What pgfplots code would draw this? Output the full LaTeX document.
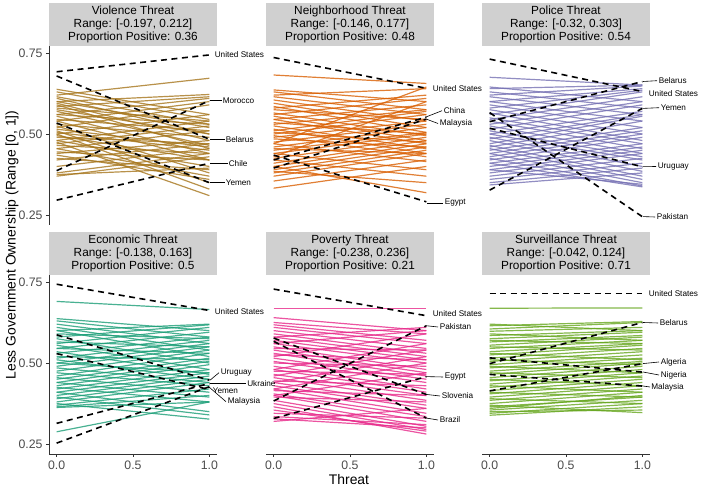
\documentclass[border=0pt]{standalone}
\usepackage{pgfplots}
\pgfplotsset{compat=1.18}
\usepackage{fontspec}
\setmainfont{Liberation Sans}
\definecolor{cviol}{HTML}{A6761D}
\definecolor{cneigh}{HTML}{D95F02}
\definecolor{cpol}{HTML}{7570B3}
\definecolor{cecon}{HTML}{1B9E77}
\definecolor{cpov}{HTML}{E7298A}
\definecolor{csurv}{HTML}{66A61E}
\definecolor{stripgray}{HTML}{D0D0D0}
\newcommand{\seg}[2]{\addplot[segstyle] coordinates {(0,#1) (1,#2)};}
\newcommand{\dseg}[2]{\addplot[dashseg] coordinates {(0,#1) (1,#2)};}
\newcommand{\labfont}{\fontsize{8.2}{9}\selectfont}
\pgfplotsset{
  panel/.style={scale only axis, width=168pt, height=179pt,
    xmin=-0.05, xmax=1.05, ymin=0.2195, ymax=0.7715,
    xtick={0,0.5,1}, xticklabels={0.0,0.5,1.0},
    ytick={0.25,0.5,0.75}, yticklabels={0.25,0.50,0.75},
    tick align=outside, major tick length=3pt,
    tick style={black!80, line width=0.6pt},
    ticklabel style={font=\fontsize{12.3}{12.3}\selectfont, text=black!70},
    axis line style={-, black!80, line width=0.9pt},
    dashseg/.style={black, line width=1.6pt, dash pattern=on 6pt off 4.5pt, no marks},
  },
  cs/.style={segstyle/.style={#1, opacity=0.8, line width=1.2pt, no marks}},
}
\begin{document}
\begin{tikzpicture}
\path[use as bounding box] (0pt,0pt) rectangle (701pt,489pt);
% strips
\foreach \xx/\xe in {49/217,266/434,482/650}{
  \fill[stripgray] (\xx pt,443pt) rectangle (\xe pt,486pt);
  \fill[stripgray] (\xx pt,214pt) rectangle (\xe pt,257pt);
}
\begin{scope}[every node/.style={align=center, font=\fontsize{11.8}{12.7}\selectfont}]
\node at (133pt,464.5pt) {Violence Threat\\Range: [-0.197, 0.212]\\Proportion Positive: 0.36};
\node at (350pt,464.5pt) {Neighborhood Threat\\Range: [-0.146, 0.177]\\Proportion Positive: 0.48};
\node at (566pt,464.5pt) {Police Threat\\Range: [-0.32, 0.303]\\Proportion Positive: 0.54};
\node at (133pt,235.5pt) {Economic Threat\\Range: [-0.138, 0.163]\\Proportion Positive: 0.5};
\node at (350pt,235.5pt) {Poverty Threat\\Range: [-0.238, 0.236]\\Proportion Positive: 0.21};
\node at (566pt,235.5pt) {Surveillance Threat\\Range: [-0.042, 0.124]\\Proportion Positive: 0.71};
\end{scope}
% ---- Violence
\begin{axis}[panel, cs=cviol, at={(49pt,264pt)}, anchor=south west, axis x line=none, axis y line*=left]
\seg{0.620}{0.672}\seg{0.600}{0.622}\seg{0.585}{0.615}\seg{0.560}{0.610}
\seg{0.540}{0.600}\seg{0.520}{0.590}\seg{0.500}{0.560}\seg{0.480}{0.540}
\seg{0.470}{0.525}\seg{0.455}{0.510}\seg{0.440}{0.480}\seg{0.420}{0.470}
\seg{0.400}{0.455}\seg{0.380}{0.440}\seg{0.370}{0.430}\seg{0.375}{0.395}
\seg{0.638}{0.560}\seg{0.630}{0.545}\seg{0.615}{0.530}\seg{0.610}{0.500}
\seg{0.600}{0.520}\seg{0.595}{0.480}\seg{0.590}{0.455}\seg{0.580}{0.540}
\seg{0.575}{0.500}\seg{0.570}{0.465}\seg{0.560}{0.530}\seg{0.555}{0.440}
\seg{0.545}{0.510}\seg{0.540}{0.420}\seg{0.530}{0.490}\seg{0.525}{0.380}
\seg{0.515}{0.460}\seg{0.510}{0.350}\seg{0.505}{0.450}\seg{0.500}{0.330}
\seg{0.495}{0.420}\seg{0.490}{0.470}\seg{0.480}{0.400}\seg{0.475}{0.310}
\seg{0.465}{0.440}\seg{0.455}{0.370}\seg{0.445}{0.420}\seg{0.435}{0.360}
\seg{0.425}{0.390}
\dseg{0.692}{0.744}\dseg{0.679}{0.484}\dseg{0.387}{0.603}\dseg{0.534}{0.350}\dseg{0.296}{0.410}
\end{axis}
% ---- Neighborhood
\begin{axis}[panel, cs=cneigh, at={(266pt,264pt)}, anchor=south west, axis lines=none]
\seg{0.470}{0.645}\seg{0.430}{0.600}\seg{0.620}{0.640}\seg{0.580}{0.620}
\seg{0.560}{0.610}\seg{0.545}{0.590}\seg{0.530}{0.575}\seg{0.510}{0.570}
\seg{0.500}{0.560}\seg{0.490}{0.540}\seg{0.475}{0.530}\seg{0.460}{0.520}
\seg{0.450}{0.505}\seg{0.440}{0.500}\seg{0.425}{0.490}\seg{0.410}{0.480}
\seg{0.400}{0.470}\seg{0.390}{0.460}\seg{0.380}{0.450}\seg{0.370}{0.440}
\seg{0.355}{0.420}\seg{0.333}{0.400}
\seg{0.682}{0.656}\seg{0.636}{0.600}\seg{0.630}{0.575}\seg{0.615}{0.560}
\seg{0.605}{0.540}\seg{0.595}{0.520}\seg{0.585}{0.505}\seg{0.575}{0.545}
\seg{0.565}{0.495}\seg{0.555}{0.480}\seg{0.545}{0.470}\seg{0.535}{0.500}
\seg{0.525}{0.455}\seg{0.515}{0.440}\seg{0.505}{0.475}\seg{0.495}{0.430}
\seg{0.485}{0.460}\seg{0.470}{0.415}\seg{0.455}{0.440}\seg{0.440}{0.390}
\seg{0.420}{0.370}\seg{0.400}{0.319}\seg{0.385}{0.350}
\dseg{0.736}{0.641}\dseg{0.420}{0.552}\dseg{0.395}{0.546}\dseg{0.435}{0.291}
\end{axis}
% ---- Police
\begin{axis}[panel, cs=cpol, at={(482pt,264pt)}, anchor=south west, axis lines=none]
\seg{0.640}{0.651}\seg{0.620}{0.648}\seg{0.600}{0.640}\seg{0.580}{0.635}
\seg{0.560}{0.630}\seg{0.545}{0.615}\seg{0.530}{0.600}\seg{0.515}{0.590}
\seg{0.500}{0.570}\seg{0.485}{0.560}\seg{0.470}{0.555}\seg{0.460}{0.540}
\seg{0.450}{0.520}\seg{0.440}{0.510}\seg{0.430}{0.500}\seg{0.420}{0.490}
\seg{0.410}{0.470}\seg{0.400}{0.460}\seg{0.390}{0.450}\seg{0.380}{0.440}
\seg{0.370}{0.425}\seg{0.360}{0.410}\seg{0.350}{0.395}\seg{0.343}{0.380}
\seg{0.675}{0.651}\seg{0.645}{0.600}\seg{0.630}{0.580}\seg{0.615}{0.560}
\seg{0.600}{0.540}\seg{0.590}{0.520}\seg{0.575}{0.500}\seg{0.565}{0.480}
\seg{0.550}{0.470}\seg{0.540}{0.455}\seg{0.525}{0.440}\seg{0.510}{0.430}
\seg{0.500}{0.420}\seg{0.490}{0.400}\seg{0.480}{0.385}\seg{0.465}{0.370}
\seg{0.455}{0.360}\seg{0.440}{0.350}\seg{0.425}{0.340}\seg{0.410}{0.337}
\seg{0.390}{0.345}
\dseg{0.731}{0.631}\dseg{0.538}{0.662}\dseg{0.327}{0.579}\dseg{0.518}{0.399}\dseg{0.566}{0.245}
\end{axis}
% ---- Economic
\begin{axis}[panel, cs=cecon, at={(49pt,35pt)}, anchor=south west, axis y line*=left, axis x line*=bottom]
\seg{0.600}{0.620}\seg{0.580}{0.618}\seg{0.560}{0.610}\seg{0.545}{0.595}
\seg{0.530}{0.580}\seg{0.515}{0.570}\seg{0.500}{0.560}\seg{0.490}{0.550}
\seg{0.475}{0.540}\seg{0.460}{0.530}\seg{0.450}{0.515}\seg{0.440}{0.505}
\seg{0.430}{0.495}\seg{0.420}{0.480}\seg{0.410}{0.470}\seg{0.400}{0.460}
\seg{0.390}{0.450}\seg{0.380}{0.440}\seg{0.370}{0.420}\seg{0.365}{0.400}
\seg{0.363}{0.380}\seg{0.288}{0.380}
\seg{0.690}{0.665}\seg{0.637}{0.600}\seg{0.630}{0.580}\seg{0.620}{0.560}
\seg{0.610}{0.540}\seg{0.600}{0.520}\seg{0.590}{0.575}\seg{0.575}{0.500}
\seg{0.565}{0.550}\seg{0.555}{0.480}\seg{0.545}{0.530}\seg{0.535}{0.465}
\seg{0.520}{0.510}\seg{0.510}{0.450}\seg{0.500}{0.470}\seg{0.485}{0.440}
\seg{0.470}{0.430}\seg{0.455}{0.410}\seg{0.440}{0.395}\seg{0.425}{0.380}
\seg{0.410}{0.350}\seg{0.395}{0.340}\seg{0.375}{0.327}
\dseg{0.743}{0.662}\dseg{0.587}{0.447}\dseg{0.529}{0.418}\dseg{0.314}{0.437}\dseg{0.253}{0.427}
\end{axis}
% ---- Poverty
\begin{axis}[panel, cs=cpov, at={(266pt,35pt)}, anchor=south west, axis x line*=bottom, axis y line=none]
\seg{0.669}{0.669}\seg{0.580}{0.610}\seg{0.560}{0.600}\seg{0.520}{0.590}
\seg{0.480}{0.560}\seg{0.460}{0.540}\seg{0.440}{0.520}\seg{0.420}{0.500}
\seg{0.400}{0.470}\seg{0.320}{0.360}
\seg{0.640}{0.600}\seg{0.625}{0.590}\seg{0.618}{0.570}\seg{0.610}{0.560}
\seg{0.600}{0.545}\seg{0.590}{0.530}\seg{0.580}{0.520}\seg{0.570}{0.510}
\seg{0.560}{0.500}\seg{0.550}{0.480}\seg{0.545}{0.540}\seg{0.540}{0.470}
\seg{0.530}{0.460}\seg{0.525}{0.510}\seg{0.515}{0.450}\seg{0.505}{0.440}
\seg{0.500}{0.490}\seg{0.490}{0.420}\seg{0.480}{0.410}\seg{0.475}{0.465}
\seg{0.465}{0.400}\seg{0.455}{0.385}\seg{0.445}{0.430}\seg{0.440}{0.370}
\seg{0.430}{0.360}\seg{0.420}{0.345}\seg{0.415}{0.400}\seg{0.405}{0.335}
\seg{0.400}{0.320}\seg{0.395}{0.380}\seg{0.385}{0.305}\seg{0.375}{0.295}
\seg{0.365}{0.281}\seg{0.355}{0.290}\seg{0.345}{0.330}\seg{0.335}{0.310}
\seg{0.328}{0.300}
\dseg{0.728}{0.646}\dseg{0.383}{0.615}\dseg{0.329}{0.458}\dseg{0.577}{0.403}\dseg{0.567}{0.330}
\end{axis}
% ---- Surveillance
\begin{axis}[panel, cs=csurv, at={(482pt,35pt)}, anchor=south west, axis x line*=bottom, axis y line=none]
\seg{0.669}{0.670}\seg{0.615}{0.628}\seg{0.605}{0.625}\seg{0.598}{0.610}
\seg{0.585}{0.600}\seg{0.575}{0.595}\seg{0.565}{0.585}\seg{0.555}{0.580}
\seg{0.545}{0.570}\seg{0.535}{0.560}\seg{0.525}{0.555}\seg{0.515}{0.545}
\seg{0.505}{0.535}\seg{0.495}{0.525}\seg{0.485}{0.515}\seg{0.475}{0.505}
\seg{0.465}{0.500}\seg{0.455}{0.490}\seg{0.445}{0.480}\seg{0.435}{0.470}
\seg{0.425}{0.460}\seg{0.415}{0.450}\seg{0.405}{0.440}\seg{0.395}{0.430}
\seg{0.385}{0.420}\seg{0.375}{0.410}\seg{0.365}{0.395}\seg{0.355}{0.385}
\seg{0.345}{0.375}\seg{0.339}{0.365}\seg{0.350}{0.355}\seg{0.360}{0.400}
\seg{0.620}{0.600}\seg{0.590}{0.570}\seg{0.570}{0.560}\seg{0.550}{0.540}
\seg{0.530}{0.510}\seg{0.510}{0.495}\seg{0.490}{0.470}\seg{0.470}{0.455}
\seg{0.450}{0.430}\seg{0.430}{0.410}\seg{0.410}{0.395}\seg{0.390}{0.375}
\seg{0.370}{0.347}
\dseg{0.715}{0.715}\dseg{0.498}{0.625}\dseg{0.414}{0.498}\dseg{0.516}{0.472}\dseg{0.465}{0.429}
\end{axis}
% axis titles
\node[rotate=90, font=\fontsize{13.9}{14}\selectfont] at (12pt,244pt) {Less Government Ownership (Range [0, 1])};
\node[font=\fontsize{13.9}{14}\selectfont] at (349pt,9pt) {Threat};
% country labels
\begin{scope}[every node/.style={anchor=west, inner sep=0.5pt, font=\labfont}, line width=0.6pt]
% Violence
\node at (214pt,434pt) {United States};
\draw (210pt,388.4pt) -- (222pt,388.4pt); \node at (222pt,388.4pt) {Morocco};
\draw (210pt,349.8pt) -- (225pt,349.8pt); \node at (225pt,349.8pt) {Belarus};
\draw (210pt,325.8pt) -- (228pt,325.8pt); \node at (228pt,325.8pt) {Chile};
\draw (210pt,306.4pt) -- (225pt,306.4pt); \node at (225pt,306.4pt) {Yemen};
% Neighborhood
\node at (432pt,400.7pt) {United States};
\draw (426pt,372pt) -- (442pt,378.3pt); \node at (443pt,378.3pt) {China};
\draw (426pt,370pt) -- (438pt,365.5pt); \node at (439pt,365.5pt) {Malaysia};
\draw (427pt,286pt) -- (443pt,286pt); \node at (444pt,286pt) {Egypt};
% Police
\draw (643pt,407.5pt) -- (657pt,408.3pt); \node at (658pt,408.3pt) {Belarus};
\node at (648pt,395pt) {United States};
\draw (643pt,380.6pt) -- (659pt,381.3pt); \node at (660pt,381.3pt) {Yemen};
\draw (643pt,322.3pt) -- (656pt,322.5pt); \node at (657pt,322.5pt) {Uruguay};
\draw (643pt,272.4pt) -- (655pt,272pt); \node at (656pt,272pt) {Pakistan};
% Economic
\node at (214pt,177.3pt) {United States};
\draw (210pt,108.8pt) -- (219pt,116.3pt); \node at (220pt,116.3pt) {Uruguay};
\draw (210pt,105.6pt) -- (246pt,105.6pt); \node at (246.5pt,105.6pt) {Ukraine};
\node at (212pt,98.5pt) {Yemen};
\draw (209pt,102pt) -- (226pt,87.3pt); \node at (227pt,87.3pt) {Malaysia};
% Poverty
\node at (432pt,175pt) {United States};
\draw (426pt,163.3pt) -- (438pt,162pt); \node at (439pt,162pt) {Pakistan};
\draw (426pt,112.4pt) -- (443pt,112pt); \node at (444pt,112pt) {Egypt};
\draw (426pt,94.6pt) -- (440pt,93pt); \node at (441pt,93pt) {Slovenia};
\draw (426pt,71pt) -- (438pt,69pt); \node at (439pt,69pt) {Brazil};
% Surveillance
\node at (648pt,195.7pt) {United States};
\draw (643pt,166.5pt) -- (658pt,166pt); \node at (659pt,166pt) {Belarus};
\draw (643pt,125.4pt) -- (659pt,127pt); \node at (660pt,127pt) {Algeria};
\draw (643pt,117pt) -- (659pt,114pt); \node at (660pt,114pt) {Nigeria};
\draw (643pt,103pt) -- (650pt,102pt); \node at (650.5pt,102pt) {Malaysia};
\end{scope}
\end{tikzpicture}
\end{document}
